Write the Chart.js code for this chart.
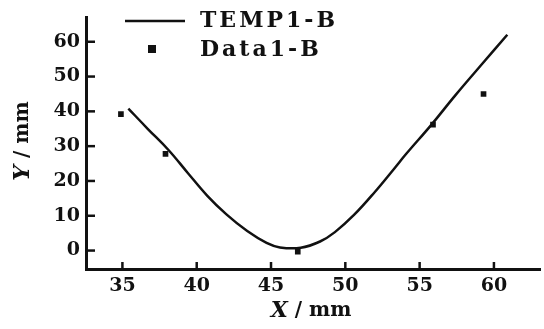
<!DOCTYPE html>
<html>
<head>
<meta charset="utf-8">
<script src="https://cdn.jsdelivr.net/npm/chart.js@4.4.1/dist/chart.umd.min.js"></script>
<style>
  html, body { margin: 0; padding: 0; background: #fff; }
  canvas { display: block; }
</style>
</head>
<body>
<canvas id="chart" width="544" height="329"></canvas>
<script>
// fitted curve (TEMP1-B)
const curveX = [35.4, 36.7, 38.1, 39.4, 40.7, 42.0, 43.4, 44.7, 45.6, 47.0, 48.3, 49.3, 50.6, 52.0, 53.3, 54.1, 55.8, 57.4, 59.2, 60.9];
const curveY = [40.8, 35.0, 28.9, 22.3, 15.8, 10.4, 5.6, 2.2, 0.9, 0.8, 2.6, 5.3, 10.3, 16.9, 23.6, 27.8, 36.2, 44.6, 53.6, 62.0];

// measured points (Data1-B)
const dataX = [34.9, 37.9, 46.8, 55.9, 59.3];
const dataY = [39.2, 27.8, -0.3, 36.2, 45.0];

const xTicks = [35, 40, 45, 50, 55, 60];
const yTicks = [0, 10, 20, 30, 40, 50, 60];
const seriesNames = ["TEMP1-B", "Data1-B"];

const SERIF = "'DejaVu Serif', 'Liberation Serif', serif";
const INK = "#111";

// inward tick marks, axis titles and the legend box
const decorPlugin = {
  id: "decor",
  afterDraw(chart) {
    const ctx = chart.ctx;
    const area = chart.chartArea;
    const xs = chart.scales.x, ys = chart.scales.y;
    ctx.save();
    ctx.strokeStyle = INK;
    ctx.lineWidth = 2.5;
    ys.ticks.forEach(t => {
      const py = ys.getPixelForValue(t.value);
      ctx.beginPath();
      ctx.moveTo(area.left, py);
      ctx.lineTo(area.left + 9, py);
      ctx.stroke();
    });
    xs.ticks.forEach(t => {
      const px = xs.getPixelForValue(t.value);
      ctx.beginPath();
      ctx.moveTo(px, area.bottom);
      ctx.lineTo(px, area.bottom - 7);
      ctx.stroke();
    });

    // axis titles: italic letter + "/mm"
    ctx.fillStyle = INK;
    ctx.textBaseline = "middle";
    const drawTitle = (letter, cx, cy, rot) => {
      ctx.save();
      ctx.translate(cx, cy);
      ctx.rotate(rot);
      const f1 = "italic bold 22px " + SERIF;
      const f2 = "bold 20px " + SERIF;
      ctx.font = f1;
      const w1 = ctx.measureText(letter).width;
      ctx.font = f2;
      const rest = " / mm";
      const w2 = ctx.measureText(rest).width;
      const x0 = -(w1 + w2) / 2;
      ctx.textAlign = "left";
      ctx.font = f1;
      ctx.fillText(letter, x0, 0);
      ctx.font = f2;
      ctx.fillText(rest, x0 + w1, 0);
      ctx.restore();
    };
    drawTitle("X", 311, 311, 0);
    drawTitle("Y", 23, 141, -Math.PI / 2);

    // legend
    const ds = chart.data.datasets;
    ctx.font = "bold 22px " + SERIF;
    ctx.letterSpacing = "3px";
    ctx.textAlign = "left";
    ctx.strokeStyle = ds[0].borderColor;
    ctx.lineWidth = ds[0].borderWidth;
    ctx.beginPath();
    ctx.moveTo(125, 21);
    ctx.lineTo(185, 21);
    ctx.stroke();
    ctx.fillText(ds[0].label, 200, 21);
    ctx.fillStyle = ds[1].backgroundColor;
    ctx.fillRect(148, 45, 8, 8);
    ctx.fillStyle = INK;
    ctx.fillText(ds[1].label, 200, 50);
    ctx.restore();
  }
};

const tickFont = { family: SERIF, size: 19, weight: "bold" };

new Chart(document.getElementById("chart"), {
  type: "scatter",
  data: {
    datasets: [
      {
        label: seriesNames[0],
        data: curveX.map((x, i) => ({ x: x, y: curveY[i] })),
        showLine: true,
        borderColor: INK,
        borderWidth: 2.5,
        pointRadius: 0,
        tension: 0.4,
        fill: false
      },
      {
        label: seriesNames[1],
        data: dataX.map((x, i) => ({ x: x, y: dataY[i] })),
        showLine: false,
        pointStyle: "rect",
        pointRadius: 4,
        backgroundColor: INK,
        borderColor: INK,
        borderWidth: 0
      }
    ]
  },
  options: {
    responsive: false,
    animation: false,
    devicePixelRatio: 1,
    layout: { padding: { top: 8, right: 2, left: 0, bottom: 0 } },
    plugins: {
      legend: { display: false },
      tooltip: { enabled: false }
    },
    scales: {
      x: {
        type: "linear",
        position: "bottom",
        min: 32.55,
        max: 63.1,
        afterBuildTicks: s => { s.ticks = xTicks.map(v => ({ value: v })); },
        afterFit: s => { s.height = 60; },
        grid: { drawOnChartArea: false, drawTicks: false },
        border: { color: INK, width: 3 },
        ticks: { color: INK, font: tickFont, padding: 6, maxRotation: 0 }
      },
      y: {
        type: "linear",
        min: -5.3,
        max: 67,
        afterBuildTicks: s => { s.ticks = yTicks.map(v => ({ value: v })); },
        afterFit: s => { s.width = 86; },
        grid: { drawOnChartArea: false, drawTicks: false },
        border: { color: INK, width: 3 },
        ticks: { color: INK, font: tickFont, padding: 6 }
      }
    }
  },
  plugins: [decorPlugin]
});
</script>
</body>
</html>
